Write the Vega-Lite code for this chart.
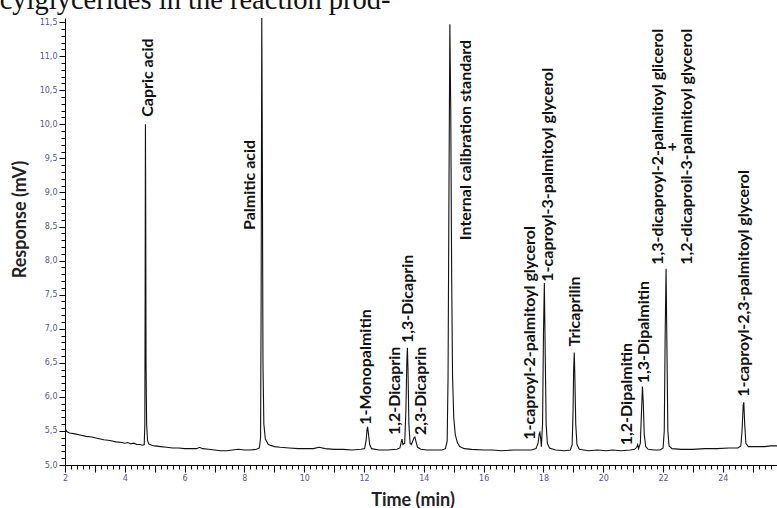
{
  "$schema": "https://vega.github.io/schema/vega-lite/v6.json",
  "width": 712,
  "height": 447,
  "autosize": {"type": "none"},
  "padding": {"left": 65, "top": 18, "right": 0, "bottom": 43},
  "background": "white",
  "config": {"view": {"stroke": null}, "axis": {"grid": false}},
  "title": {
    "text": "acylglycerides in the reaction prod-",
    "anchor": "start",
    "frame": "group",
    "orient": "top",
    "font": "Liberation Serif",
    "fontSize": 28.5,
    "fontWeight": "normal",
    "color": "#111111",
    "baseline": "alphabetic",
    "dx": -78,
    "dy": 23,
    "offset": 4
  },
  "datasets": {
    "trace": [
      {"time": 2.0, "mV": 5.57}, {"time": 2.02, "mV": 5.52}, {"time": 2.06, "mV": 5.49}, {"time": 2.15, "mV": 5.47},
      {"time": 2.3, "mV": 5.46}, {"time": 2.5, "mV": 5.44}, {"time": 2.7, "mV": 5.42}, {"time": 2.9, "mV": 5.41},
      {"time": 3.1, "mV": 5.39}, {"time": 3.3, "mV": 5.37}, {"time": 3.5, "mV": 5.36}, {"time": 3.7, "mV": 5.34},
      {"time": 3.9, "mV": 5.33}, {"time": 4.0, "mV": 5.32}, {"time": 4.1, "mV": 5.33}, {"time": 4.2, "mV": 5.31},
      {"time": 4.3, "mV": 5.32}, {"time": 4.4, "mV": 5.3}, {"time": 4.5, "mV": 5.3}, {"time": 4.6, "mV": 5.29},
      {"time": 4.65, "mV": 5.3}, {"time": 4.67, "mV": 5.6}, {"time": 4.68, "mV": 7.5}, {"time": 4.69, "mV": 10.0},
      {"time": 4.7, "mV": 8.6}, {"time": 4.71, "mV": 6.5}, {"time": 4.73, "mV": 5.6}, {"time": 4.76, "mV": 5.36},
      {"time": 4.8, "mV": 5.31}, {"time": 4.9, "mV": 5.29}, {"time": 5.0, "mV": 5.28}, {"time": 5.2, "mV": 5.27},
      {"time": 5.4, "mV": 5.26}, {"time": 5.6, "mV": 5.25}, {"time": 5.8, "mV": 5.25}, {"time": 6.0, "mV": 5.24},
      {"time": 6.2, "mV": 5.24}, {"time": 6.4, "mV": 5.24}, {"time": 6.5, "mV": 5.26}, {"time": 6.6, "mV": 5.24},
      {"time": 6.8, "mV": 5.23}, {"time": 7.0, "mV": 5.22}, {"time": 7.2, "mV": 5.21}, {"time": 7.4, "mV": 5.21},
      {"time": 7.6, "mV": 5.22}, {"time": 7.8, "mV": 5.23}, {"time": 8.0, "mV": 5.22}, {"time": 8.2, "mV": 5.22},
      {"time": 8.4, "mV": 5.23}, {"time": 8.5, "mV": 5.25}, {"time": 8.54, "mV": 5.4}, {"time": 8.56, "mV": 7.5},
      {"time": 8.58, "mV": 11.6}, {"time": 8.6, "mV": 9.5}, {"time": 8.62, "mV": 6.5}, {"time": 8.65, "mV": 5.6},
      {"time": 8.7, "mV": 5.38}, {"time": 8.8, "mV": 5.3}, {"time": 9.0, "mV": 5.27}, {"time": 9.2, "mV": 5.26},
      {"time": 9.5, "mV": 5.25}, {"time": 9.8, "mV": 5.24}, {"time": 10.0, "mV": 5.24}, {"time": 10.3, "mV": 5.24},
      {"time": 10.5, "mV": 5.26}, {"time": 10.7, "mV": 5.24}, {"time": 11.0, "mV": 5.23}, {"time": 11.3, "mV": 5.23},
      {"time": 11.6, "mV": 5.22}, {"time": 11.9, "mV": 5.23}, {"time": 12.02, "mV": 5.24}, {"time": 12.07, "mV": 5.36},
      {"time": 12.1, "mV": 5.52}, {"time": 12.12, "mV": 5.56}, {"time": 12.15, "mV": 5.45}, {"time": 12.19, "mV": 5.3},
      {"time": 12.25, "mV": 5.24}, {"time": 12.5, "mV": 5.22}, {"time": 12.8, "mV": 5.22}, {"time": 13.1, "mV": 5.23},
      {"time": 13.2, "mV": 5.25}, {"time": 13.24, "mV": 5.33}, {"time": 13.27, "mV": 5.38}, {"time": 13.3, "mV": 5.3},
      {"time": 13.36, "mV": 5.32}, {"time": 13.4, "mV": 5.8}, {"time": 13.43, "mV": 6.5}, {"time": 13.45, "mV": 6.72},
      {"time": 13.47, "mV": 6.4}, {"time": 13.5, "mV": 5.6}, {"time": 13.54, "mV": 5.32}, {"time": 13.58, "mV": 5.3},
      {"time": 13.62, "mV": 5.34}, {"time": 13.67, "mV": 5.4}, {"time": 13.7, "mV": 5.41}, {"time": 13.74, "mV": 5.34},
      {"time": 13.79, "mV": 5.26}, {"time": 13.9, "mV": 5.23}, {"time": 14.1, "mV": 5.22}, {"time": 14.4, "mV": 5.22},
      {"time": 14.6, "mV": 5.22}, {"time": 14.72, "mV": 5.24}, {"time": 14.78, "mV": 5.35}, {"time": 14.81, "mV": 6.3},
      {"time": 14.84, "mV": 9.0}, {"time": 14.87, "mV": 11.47}, {"time": 14.9, "mV": 10.2}, {"time": 14.93, "mV": 7.8},
      {"time": 14.96, "mV": 6.3}, {"time": 15.0, "mV": 5.7}, {"time": 15.05, "mV": 5.45}, {"time": 15.12, "mV": 5.33},
      {"time": 15.2, "mV": 5.27}, {"time": 15.35, "mV": 5.24}, {"time": 15.6, "mV": 5.23}, {"time": 16.0, "mV": 5.22},
      {"time": 16.3, "mV": 5.22}, {"time": 16.6, "mV": 5.21}, {"time": 17.0, "mV": 5.22}, {"time": 17.3, "mV": 5.22},
      {"time": 17.6, "mV": 5.22}, {"time": 17.75, "mV": 5.24}, {"time": 17.82, "mV": 5.32}, {"time": 17.86, "mV": 5.46},
      {"time": 17.88, "mV": 5.48}, {"time": 17.91, "mV": 5.38}, {"time": 17.93, "mV": 5.27}, {"time": 17.97, "mV": 5.6},
      {"time": 18.0, "mV": 6.9}, {"time": 18.03, "mV": 7.67}, {"time": 18.06, "mV": 6.6}, {"time": 18.09, "mV": 5.6},
      {"time": 18.13, "mV": 5.32}, {"time": 18.2, "mV": 5.25}, {"time": 18.4, "mV": 5.22}, {"time": 18.7, "mV": 5.21},
      {"time": 18.9, "mV": 5.22}, {"time": 18.96, "mV": 5.3}, {"time": 18.99, "mV": 5.8}, {"time": 19.01, "mV": 6.4},
      {"time": 19.03, "mV": 6.65}, {"time": 19.05, "mV": 6.3}, {"time": 19.08, "mV": 5.6}, {"time": 19.12, "mV": 5.3},
      {"time": 19.2, "mV": 5.23}, {"time": 19.5, "mV": 5.21}, {"time": 19.8, "mV": 5.22}, {"time": 20.1, "mV": 5.21},
      {"time": 20.3, "mV": 5.22}, {"time": 20.6, "mV": 5.21}, {"time": 20.9, "mV": 5.22}, {"time": 21.05, "mV": 5.23},
      {"time": 21.12, "mV": 5.26}, {"time": 21.15, "mV": 5.3}, {"time": 21.18, "mV": 5.24}, {"time": 21.24, "mV": 5.32},
      {"time": 21.28, "mV": 5.8}, {"time": 21.31, "mV": 6.15}, {"time": 21.34, "mV": 5.9}, {"time": 21.37, "mV": 5.45},
      {"time": 21.42, "mV": 5.27}, {"time": 21.5, "mV": 5.23}, {"time": 21.7, "mV": 5.22}, {"time": 21.9, "mV": 5.22},
      {"time": 22.0, "mV": 5.25}, {"time": 22.04, "mV": 5.5}, {"time": 22.07, "mV": 6.9}, {"time": 22.1, "mV": 7.88},
      {"time": 22.13, "mV": 6.7}, {"time": 22.16, "mV": 5.5}, {"time": 22.2, "mV": 5.28}, {"time": 22.3, "mV": 5.24},
      {"time": 22.6, "mV": 5.23}, {"time": 23.0, "mV": 5.23}, {"time": 23.4, "mV": 5.24}, {"time": 23.8, "mV": 5.24},
      {"time": 24.2, "mV": 5.25}, {"time": 24.5, "mV": 5.25}, {"time": 24.6, "mV": 5.28}, {"time": 24.64, "mV": 5.5},
      {"time": 24.68, "mV": 5.88}, {"time": 24.7, "mV": 5.92}, {"time": 24.73, "mV": 5.6}, {"time": 24.77, "mV": 5.32},
      {"time": 24.85, "mV": 5.27}, {"time": 25.1, "mV": 5.27}, {"time": 25.4, "mV": 5.27}, {"time": 25.6, "mV": 5.28},
      {"time": 25.81, "mV": 5.28}
    ],
    "labels": [
      {"label": "Capric acid", "time": 4.77, "mV": 10.11},
      {"label": "Palmitic acid", "time": 8.19, "mV": 8.45},
      {"label": "1-Monopalmitin", "time": 12.06, "mV": 5.59},
      {"label": "1,2-Dicaprin", "time": 13.05, "mV": 5.44},
      {"label": "1,3-Dicaprin", "time": 13.47, "mV": 6.79},
      {"label": "2,3-Dicaprin", "time": 13.9, "mV": 5.44},
      {"label": "Internal calibration standard", "time": 15.41, "mV": 8.3},
      {"label": "1-caproyl-2-palmitoyl glycerol", "time": 17.55, "mV": 5.37},
      {"label": "1-caproyl-3-palmitoyl glycerol", "time": 18.15, "mV": 7.69},
      {"label": "Tricaprilin", "time": 19.06, "mV": 6.74},
      {"label": "1,2-Dipalmitin", "time": 20.81, "mV": 5.29},
      {"label": "1,3-Dipalmitin", "time": 21.35, "mV": 6.2},
      {"label": "1-caproyl-2,3-palmitoyl glycerol", "time": 24.71, "mV": 6.0}
    ],
    "combo": [
      {"label": "1,3-dicaproyl-2-palmitoyl glicerol\n+\n1,2-dicaproil-3-palmitoyl glycerol", "time": 21.83, "mV": 9.67}
    ]
  },
  "layer": [
    {
      "data": {"name": "trace"},
      "mark": {"type": "line", "clip": true, "color": "#111111", "strokeWidth": 1.1},
      "encoding": {
        "x": {
          "field": "time", "type": "quantitative",
          "scale": {"domain": [2, 25.81], "nice": false, "zero": false},
          "axis": {
            "orient": "bottom",
            "values": [2,3,4,5,6,7,8,9,10,11,12,13,14,15,16,17,18,19,20,21,22,23,24,25],
            "labelExpr": "datum.value % 2 === 0 ? format(datum.value, 'd') : ''",
            "tickSize": 7, "tickColor": "#000000", "tickWidth": 1,
            "domainColor": "#000000", "domainWidth": 1,
            "labelFont": "DejaVu Sans", "labelFontSize": 8, "labelColor": "#55559a",
            "labelPadding": 2, "labelFlush": false, "labelOverlap": false, "labelBound": false,
            "title": "Time (min)", "titleFont": "Lato", "titleFontSize": 18, "titleFontWeight": "bold",
            "titleColor": "#222222", "titleX": 347.5, "titleY": 40, "titleBaseline": "alphabetic", "titleAlign": "center",
            "grid": false
          }
        },
        "y": {
          "field": "mV", "type": "quantitative",
          "scale": {"domain": [5, 11.56], "nice": false, "zero": false},
          "axis": {
            "orient": "left",
            "values": [5,5.5,6,6.5,7,7.5,8,8.5,9,9.5,10,10.5,11,11.5],
            "labelExpr": "replace(format(datum.value, '.1f'), '.', ',')",
            "tickSize": 6, "tickColor": "#000000", "tickWidth": 1,
            "domainColor": "#000000", "domainWidth": 1,
            "labelFont": "DejaVu Sans", "labelFontSize": 8, "labelColor": "#55559a",
            "labelPadding": 2, "labelFlush": false, "labelOverlap": false, "labelBound": false,
            "title": "Response (mV)", "titleFont": "Lato", "titleFontSize": 18, "titleFontWeight": "bold",
            "titleColor": "#222222", "titleX": -40, "titleY": 201, "titleAngle": 270,
            "titleBaseline": "alphabetic", "titleAlign": "center",
            "grid": false
          }
        }
      }
    },
    {
      "data": {"name": "labels"},
      "mark": {"type": "text", "angle": 270, "align": "left", "baseline": "middle", "font": "Lato", "fontWeight": "bold", "fontSize": 16, "color": "#111111"},
      "encoding": {
        "x": {
          "field": "time", "type": "quantitative",
          "scale": {"domain": [2, 25.81], "nice": false, "zero": false},
          "axis": {
            "orient": "bottom",
            "values": [2,2.2,2.4,2.6,2.8,3,3.2,3.4,3.6,3.8,4,4.2,4.4,4.6,4.8,5,5.2,5.4,5.6,5.8,6,6.2,6.4,6.6,6.8,7,7.2,7.4,7.6,7.8,8,8.2,8.4,8.6,8.8,9,9.2,9.4,9.6,9.8,10,10.2,10.4,10.6,10.8,11,11.2,11.4,11.6,11.8,12,12.2,12.4,12.6,12.8,13,13.2,13.4,13.6,13.8,14,14.2,14.4,14.6,14.8,15,15.2,15.4,15.6,15.8,16,16.2,16.4,16.6,16.8,17,17.2,17.4,17.6,17.8,18,18.2,18.4,18.6,18.8,19,19.2,19.4,19.6,19.8,20,20.2,20.4,20.6,20.8,21,21.2,21.4,21.6,21.8,22,22.2,22.4,22.6,22.8,23,23.2,23.4,23.6,23.8,24,24.2,24.4,24.6,24.8,25,25.2,25.4,25.6,25.8],
            "labels": false, "domain": false, "tickSize": 4, "tickColor": "#000000", "tickWidth": 1,
            "title": null, "grid": false
          }
        },
        "y": {
          "field": "mV", "type": "quantitative",
          "scale": {"domain": [5, 11.56], "nice": false, "zero": false},
          "axis": {
            "orient": "left",
            "values": [5,5.1,5.2,5.3,5.4,5.5,5.6,5.7,5.8,5.9,6,6.1,6.2,6.3,6.4,6.5,6.6,6.7,6.8,6.9,7,7.1,7.2,7.3,7.4,7.5,7.6,7.7,7.8,7.9,8,8.1,8.2,8.3,8.4,8.5,8.6,8.7,8.8,8.9,9,9.1,9.2,9.3,9.4,9.5,9.6,9.7,9.8,9.9,10,10.1,10.2,10.3,10.4,10.5,10.6,10.7,10.8,10.9,11,11.1,11.2,11.3,11.4,11.5],
            "labels": false, "domain": false, "tickSize": 4, "tickColor": "#000000", "tickWidth": 1,
            "title": null, "grid": false
          }
        },
        "text": {"field": "label", "type": "nominal"}
      }
    },
    {
      "data": {"name": "combo"},
      "mark": {"type": "text", "angle": 270, "align": "center", "baseline": "middle", "lineBreak": "\n", "lineHeight": 14.5, "font": "Lato", "fontWeight": "bold", "fontSize": 16, "color": "#111111"},
      "encoding": {
        "x": {"field": "time", "type": "quantitative", "scale": {"domain": [2, 25.81], "nice": false, "zero": false}, "axis": null},
        "y": {"field": "mV", "type": "quantitative", "scale": {"domain": [5, 11.56], "nice": false, "zero": false}, "axis": null},
        "text": {"field": "label", "type": "nominal"}
      }
    }
  ],
  "resolve": {"axis": {"x": "independent", "y": "independent"}}
}
